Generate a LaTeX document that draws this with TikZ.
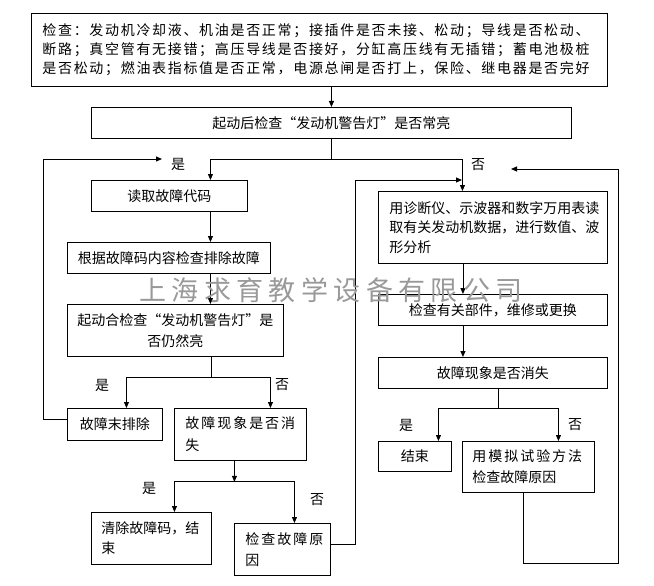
\documentclass[tikz,border=0pt]{standalone}
\usepackage{fontspec}
\setmainfont{Noto Sans CJK SC}
\newfontfamily\topfont{Noto Sans CJK SC}[LetterSpace=12]
\newfontfamily\widefont{Noto Sans CJK SC}[LetterSpace=14]
\newfontfamily\markfont{Noto Sans CJK SC}[LetterSpace=20]
\usetikzlibrary{arrows.meta}

\begin{document}
\begin{tikzpicture}[x=1pt, y=-1pt,
    box/.style={draw, line width=0.9pt, anchor=north west, inner sep=0pt, font=\fontsize{14}{19}\selectfont},
    flow/.style={-{Triangle[length=6pt,width=5pt]}, line width=0.9pt},
    link/.style={line width=0.9pt},
    yesno/.style={font=\fontsize{14}{16}\selectfont, inner sep=0pt}
]
    \useasboundingbox (0,0) rectangle (654,586);

    % Checks before start
    \node[box, minimum width=576pt, minimum height=73pt, text width=554pt, align=left, font=\topfont\fontsize{14}{19}\selectfont] (check) at (31,13) {检查：发动机冷却液、机油是否正常；接插件是否未接、松动；导线是否松动、\\断路；真空管有无接错；高压导线是否接好，分缸高压线有无插错；蓄电池极桩\\是否松动；燃油表指标值是否正常，电源总闸是否打上，保险、继电器是否完好};
    \node[box, minimum width=480pt, minimum height=31pt] (start) at (91,107) {起动后检查“发动机警告灯”是否常亮};

    % Left branch
    \node[box, minimum width=156pt, minimum height=31pt] (read) at (91,180) {读取故障代码};
    \node[box, minimum width=203pt, minimum height=31pt] (bycode) at (67,242) {根据故障码内容检查排除故障};
    \node[box, minimum width=216pt, minimum height=52pt, align=center, font=\fontsize{14}{21}\selectfont] (recheck) at (67,304) {起动合检查“发动机警告灯”是\\否仍然亮};
    \node[box, minimum width=95pt, minimum height=32pt] (notfixed) at (67,408) {故障末排除};
    \node[box, minimum width=132pt, minimum height=52pt, text width=110pt, align=left, font=\fontsize{14}{22}\selectfont] (gone1) at (174,408) {{\widefont 故障现象是否消}\\失};
    \node[box, minimum width=120pt, minimum height=52pt, text width=100pt, align=left, font=\fontsize{14}{20}\selectfont] (clear) at (91,512) {清除故障码，结\\束};
    \node[box, minimum width=96pt, minimum height=52pt, text width=74pt, align=left, font=\fontsize{14}{21}\selectfont] (cause1) at (234,523) {{\widefont 检查故障原}\\因};

    % Right branch
    \node[box, minimum width=229pt, minimum height=72pt, text width=207pt, align=left, font=\fontsize{14}{19.5}\selectfont] (diag) at (378,191) {用诊断仪、示波器和数字万用表读\\取有关发动机数据，进行数值、波\\形分析};
    \node[box, minimum width=229pt, minimum height=31pt] (parts) at (378,294) {检查有关部件，维修或更换};
    \node[box, minimum width=229pt, minimum height=31pt] (gone2) at (378,357) {故障现象是否消失};
    \node[box, minimum width=73pt, minimum height=30pt] (done) at (378,441) {结束};
    \node[box, minimum width=132pt, minimum height=51pt, text width=112pt, align=left, font=\fontsize{14}{21}\selectfont] (sim) at (462,441) {{\widefont 用模拟试验方法}\\检查故障原因};

    % Main flow
    \draw[flow] (start.north |- check.south) -- (start.north);
    \draw[flow] (start.south) -- ++(0,21) -| ([xshift=41pt]read.north);
    \draw[flow] (start.south) -- ++(0,21) -| ([xshift=-30.5pt]diag.north);
    \draw[flow] ([xshift=41pt]read.south) -- ([xshift=41pt]read.south |- bycode.north);
    \draw[flow] ([xshift=41.5pt]bycode.south) -- ([xshift=41.5pt]bycode.south |- recheck.north);
    \draw[link] ([xshift=36pt]recheck.south) -- ++(0,21) coordinate (split1);
    \draw[flow] (split1) -| ([xshift=11.5pt]notfixed.north);
    \draw[flow] (split1) -| ([xshift=30pt]gone1.north);
    \draw[flow] ([xshift=-6pt]gone1.south) -- ++(0,21) coordinate (split2);
    \draw[flow] (split2) -| ([xshift=23pt]clear.north);
    \draw[flow] (split2) -| ([xshift=12pt]cause1.north);
    \draw[flow] ([xshift=-30pt]diag.south) -- ([xshift=-30pt]diag.south |- parts.north);
    \draw[flow] ([xshift=-30pt]parts.south) -- ([xshift=-30pt]parts.south |- gone2.north);
    \draw[link] ([xshift=5.5pt]gone2.south) -- ++(0,20) coordinate (split3);
    \draw[flow] (split3) -| ([xshift=23.5pt]done.north);
    \draw[flow] (split3) -| ([xshift=30pt]sim.north);

    % Loops back
    \coordinate (yesin) at (162,159);
    \coordinate (noin) at (462,180);
    \coordinate (loopin) at (511,169);
    \draw[flow] ([yshift=5pt]notfixed.west) -- ++(-24,0) |- (yesin);
    \draw[flow] ([yshift=5pt]cause1.east) -- ++(25,0) |- (noin);
    \draw[flow] ([xshift=-5pt]sim.south) -- ++(0,71) -- ++(95,0) |- (loopin);

    % Yes / no labels
    \node[yesno] (yes1) at (178,164) {是};
    \node[yesno] (no1) at (478,165) {否};
    \node[yesno] (yes2) at (102,385) {是};
    \node[yesno] (no2) at (282,385) {否};
    \node[yesno] (yes3) at (149,488) {是};
    \node[yesno] (no3) at (317,500) {否};
    \node[yesno] (yes4) at (406,425) {是};
    \node[yesno] (no4) at (575,425) {否};

    % Watermark
    \node[font=\markfont\fontsize{27}{30}\selectfont, text=black!40, inner sep=0pt] (mark) at (331,290) {上海求育教学设备有限公司};
\end{tikzpicture}
\end{document}
